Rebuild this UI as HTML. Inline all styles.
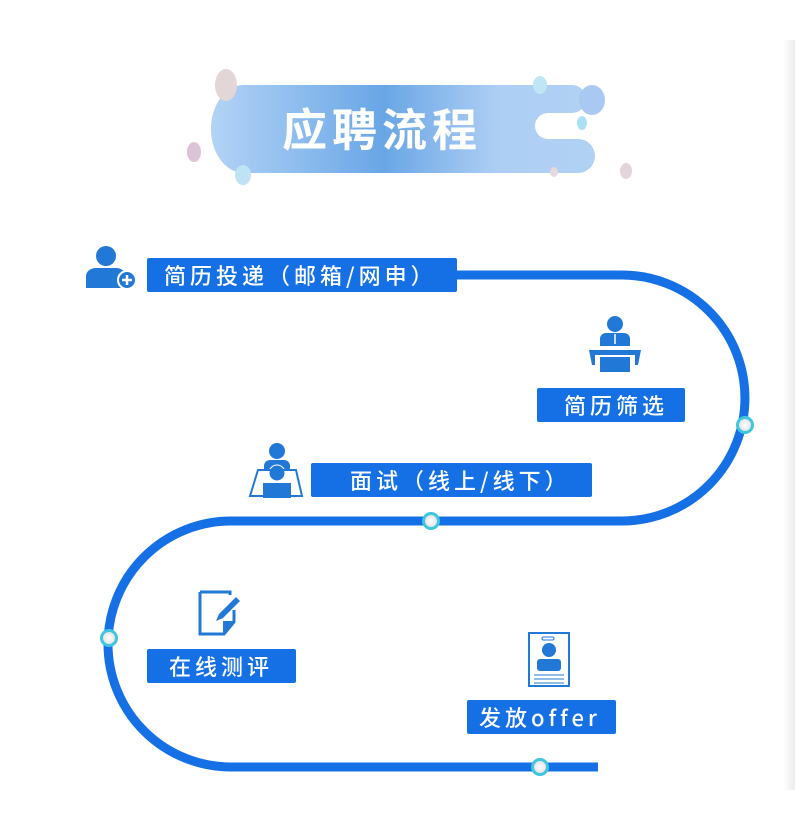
<!DOCTYPE html>
<html><head><meta charset="utf-8"><style>
html,body{margin:0;padding:0;background:#fff;}
body{width:795px;height:829px;position:relative;overflow:hidden;font-family:"Liberation Sans","Noto Sans CJK SC",sans-serif;}
.lb{position:absolute;background:#1570e6;color:#fff;font-size:22px;font-weight:500;line-height:34px;height:34px;border-radius:2px;letter-spacing:4px;white-space:nowrap;font-family:"Noto Sans CJK SC",sans-serif;}
.shadow{position:absolute;left:783px;top:40px;width:12px;height:750px;background:linear-gradient(90deg,rgba(0,0,0,0),rgba(0,0,0,0.08));}
</style></head><body>
<div class="shadow"></div>
<svg width="795" height="829" style="position:absolute;left:0;top:0">
<defs>
<linearGradient id="g" x1="0" x2="1" y1="0" y2="0">
<stop offset="0" stop-color="#b3d3f6"/><stop offset="0.45" stop-color="#69a6e6"/><stop offset="0.75" stop-color="#aecff4"/><stop offset="1" stop-color="#b0d0f4"/>
</linearGradient>
<radialGradient id="dot"><stop offset="0" stop-color="#fff"/><stop offset="1" stop-color="#ddd"/></radialGradient>
</defs>
<path d="M242 85 H572 a14 14 0 0 1 0 28 H548 a13 13 0 0 0 0 26 H578 a17 17 0 0 1 0 34 H246 a33 44 0 0 1 -4 -88 z" fill="url(#g)"/>
<ellipse cx="592" cy="100" rx="13" ry="15" fill="#a9c9f2"/>
<ellipse cx="226" cy="85" rx="11" ry="16" fill="#e3d6d6"/>
<ellipse cx="194" cy="152" rx="7" ry="10" fill="#dcc3d6"/>
<ellipse cx="243" cy="175" rx="8" ry="10" fill="#bfe2f5"/>
<ellipse cx="540" cy="85" rx="7" ry="9" fill="#bfe6f5"/>
<ellipse cx="582" cy="123" rx="5" ry="7" fill="#aee0f4"/>
<ellipse cx="554" cy="172" rx="4" ry="5" fill="#e5d9dc"/>
<ellipse cx="626" cy="171" rx="6" ry="8" fill="#e2d4da"/>
<text x="382" y="146" text-anchor="middle" font-size="45" font-weight="bold" fill="#fff" font-family="Noto Sans CJK SC,sans-serif" letter-spacing="5">应聘流程</text>
<path d="M455 275 H622 A123 123 0 0 1 622 521 H231 A123 123 0 0 0 231 767 H598" fill="none" stroke="#1570e6" stroke-width="9"/>
<g fill="url(#dot)" stroke="#3ec6df" stroke-width="3">
<circle cx="745" cy="425" r="7.5"/><circle cx="431" cy="521" r="7.5"/><circle cx="109" cy="638" r="7.5"/><circle cx="540" cy="767" r="7.5"/>
</g>
<g fill="#2278d6">
<circle cx="106" cy="256" r="10"/>
<path d="M86 288 v-12 a10 8 0 0 1 10 -8 h20 a10 8 0 0 1 10 8 v12 z"/>
<circle cx="127" cy="280" r="9" stroke="#fff" stroke-width="2"/>
</g>
<path d="M122 280h10M127 275v10" stroke="#fff" stroke-width="2.5"/>
<g fill="#2278d6">
<circle cx="615" cy="324" r="8"/>
<path d="M600 346 v-8 a6 6 0 0 1 6 -5 h18 a6 6 0 0 1 6 5 v8 z"/>
<path d="M589 350 h52 l-3 15 h-3 v-10 h-40 v10 h-3 z"/>
<rect x="600" y="357" width="30" height="15"/>
</g>
<path d="M615 334 v10" stroke="#fff" stroke-width="1.5"/>
<g fill="#2278d6">
<circle cx="277" cy="451" r="8"/>
<path d="M264 466 a6 6 0 0 1 6 -6 h14 a6 6 0 0 1 6 6 v4 h-26 z"/>
<circle cx="277" cy="473" r="8" stroke="#fff" stroke-width="1"/>
<rect x="263" y="483" width="28" height="15"/>
</g>
<path d="M258 470 h38 l6 26 h-52 z" fill="none" stroke="#2278d6" stroke-width="2"/>
<path d="M200 592 h30 v3 M200 592 v42 h24 l10 -12 v-12" fill="none" stroke="#2278d6" stroke-width="3"/>
<path d="M224 634 v-12 h10" fill="#2278d6" stroke="#2278d6" stroke-width="2"/>
<path d="M236 597 l4 4 l-17 17 l-7 3 l3 -7 z" fill="#2278d6"/>
<rect x="529" y="633" width="40" height="53" fill="#fff" stroke="#2278d6" stroke-width="2"/>
<rect x="542" y="637" width="12" height="3" rx="1.5" fill="none" stroke="#2278d6" stroke-width="1"/>
<circle cx="549" cy="650" r="7" fill="#2278d6"/>
<rect x="537" y="659" width="24" height="12" rx="3" fill="#2278d6"/>
<path d="M534 675h30M534 679h30M534 683h30" stroke="#2278d6" stroke-width="1"/>
</svg>
<div class="lb" style="left:147px;top:258px;width:310px;text-indent:17px;">简历投递（邮箱/网申）</div>
<div class="lb" style="left:537px;top:388px;width:148px;text-indent:27px;">简历筛选</div>
<div class="lb" style="left:311px;top:463px;width:281px;text-indent:39px;">面试（线上/线下）</div>
<div class="lb" style="left:147px;top:649px;width:149px;text-indent:22px;">在线测评</div>
<div class="lb" style="left:467px;top:700px;width:149px;text-indent:12px;">发放offer</div>
</body></html>
